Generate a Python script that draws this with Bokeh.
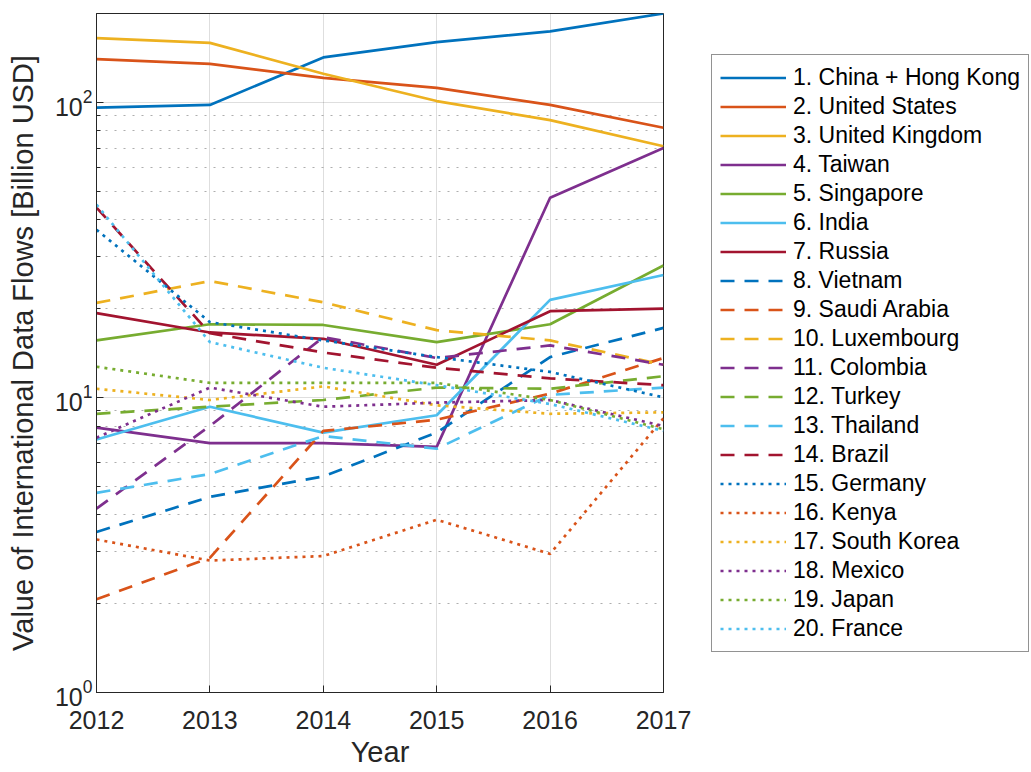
from bokeh.plotting import figure
from bokeh.models import (Range1d, FixedTicker, Legend, LegendItem, LogTickFormatter)
from bokeh.embed import file_html
from bokeh.resources import INLINE

years = [2012, 2013, 2014, 2015, 2016, 2017]
x_ticks = [2012, 2013, 2014, 2015, 2016, 2017]
y_major_ticks = [1, 10, 100]
y_minor_ticks = [2, 3, 4, 5, 6, 7, 8, 9, 20, 30, 40, 50, 60, 70, 80, 90, 200]

names = ["1. China + Hong Kong", "2. United States", "3. United Kingdom", "4. Taiwan",
         "5. Singapore", "6. India", "7. Russia", "8. Vietnam", "9. Saudi Arabia",
         "10. Luxembourg", "11. Colombia", "12. Turkey", "13. Thailand", "14. Brazil",
         "15. Germany", "16. Kenya", "17. South Korea", "18. Mexico", "19. Japan",
         "20. France"]

china = [96, 98, 142, 160, 174, 200]
united_states = [140, 135, 121, 112, 98, 82]
united_kingdom = [165, 159, 125, 101, 87, 71]
taiwan = [7.9, 7.0, 7.0, 6.8, 47.5, 70]
singapore = [15.6, 17.7, 17.6, 15.4, 17.7, 28]
india = [7.2, 9.3, 7.6, 8.7, 21.4, 26]
russia = [19.3, 16.6, 15.8, 12.9, 19.6, 20]
vietnam = [3.5, 4.6, 5.4, 7.6, 13.7, 17.2]
saudi_arabia = [2.07, 2.86, 7.7, 8.4, 10.3, 13.6]
luxembourg = [20.9, 24.8, 21.0, 16.9, 15.6, 12.9]
colombia = [4.2, 8.0, 16.0, 13.6, 15.0, 12.9]
turkey = [8.8, 9.3, 9.8, 10.8, 10.7, 11.8]
thailand = [4.75, 5.5, 7.4, 6.7, 10.2, 10.8]
brazil = [44, 16.5, 14.2, 12.6, 11.6, 11.0]
germany = [37, 18.0, 15.6, 13.7, 12.2, 10.0]
kenya = [3.3, 2.8, 2.9, 3.85, 2.95, 8.5]
south_korea = [10.7, 9.8, 10.9, 9.4, 8.8, 8.9]
mexico = [7.3, 10.8, 9.3, 9.6, 9.8, 8.0]
japan = [12.7, 11.2, 11.2, 11.2, 9.8, 7.8]
france = [45, 15.4, 12.6, 11.0, 9.5, 7.7]

series = [china, united_states, united_kingdom, taiwan, singapore, india, russia,
          vietnam, saudi_arabia, luxembourg, colombia, turkey, thailand, brazil,
          germany, kenya, south_korea, mexico, japan, france]

palette = ["#0072BD", "#D95319", "#EDB120", "#7E2F8E", "#77AC30", "#4DBEEE", "#A2142F"]
styles = ["solid"] * 7 + ["14 10"] * 7 + ["3 5"] * 6

FONT = "Liberation Sans"
AX = "#262626"

p = figure(frame_width=567, frame_height=679, y_axis_type="log",
           x_range=Range1d(2012, 2017), y_range=Range1d(1, 200),
           output_backend="svg", toolbar_location=None,
           min_border_left=96, min_border_right=360, min_border_top=13,
           min_border_bottom=74)
p.background_fill_color = "white"
p.border_fill_color = "white"
p.outline_line_color = AX
p.outline_line_width = 1

# axes
p.xaxis.ticker = FixedTicker(ticks=x_ticks)
p.yaxis.ticker = FixedTicker(ticks=y_major_ticks, minor_ticks=y_minor_ticks)
p.yaxis.formatter = LogTickFormatter()
for ax in (p.xaxis, p.yaxis):
    ax.axis_line_color = AX
    ax.major_tick_line_color = AX
    ax.minor_tick_line_color = AX
    ax.major_tick_in = 7
    ax.major_tick_out = 0
    ax.minor_tick_in = 4
    ax.minor_tick_out = 0
    ax.major_label_text_font = FONT
    ax.major_label_text_font_size = "25px"
    ax.major_label_text_color = AX
    ax.major_label_text_line_height = 1.0
    ax.axis_label_text_font = FONT
    ax.axis_label_text_font_size = "29px"
    ax.axis_label_text_font_style = "normal"
    ax.axis_label_text_color = AX
    ax.axis_label_text_line_height = 1.0
p.xaxis.minor_tick_line_color = None
p.xaxis.major_label_standoff = 18
p.yaxis.major_label_standoff = 4
p.xaxis.axis_label = "Year"
p.xaxis.axis_label_standoff = 4
p.yaxis.axis_label = "Value of International Data Flows [Billion USD]"
p.yaxis.axis_label_standoff = 13

# grids
p.xgrid.grid_line_color = "#000000"
p.xgrid.grid_line_alpha = 0.13
p.ygrid.grid_line_color = "#000000"
p.ygrid.grid_line_alpha = 0.13
p.ygrid.minor_grid_line_color = "#9a9a9a"
p.ygrid.minor_grid_line_alpha = 0.8
p.ygrid.minor_grid_line_dash = "2 7"

items = []
for i, (name, vals) in enumerate(zip(names, series)):
    r = p.line(years, vals, line_color=palette[i % 7], line_width=2.7,
               line_dash=styles[i])
    items.append(LegendItem(label=name, renderers=[r]))

legend = Legend(items=items, location=(48, 40))
legend.label_text_font = FONT
legend.label_text_font_size = "23px"
legend.label_text_color = "#000000"
legend.label_height = 29
legend.glyph_height = 29
legend.glyph_width = 66
legend.label_standoff = 7
legend.spacing = 0
legend.padding = 8
legend.margin = 0
legend.border_line_color = AX
legend.border_line_width = 1
legend.background_fill_color = "white"
legend.background_fill_alpha = 1
p.add_layout(legend, "right")

open("out.html", "w").write(file_html(p, INLINE))
